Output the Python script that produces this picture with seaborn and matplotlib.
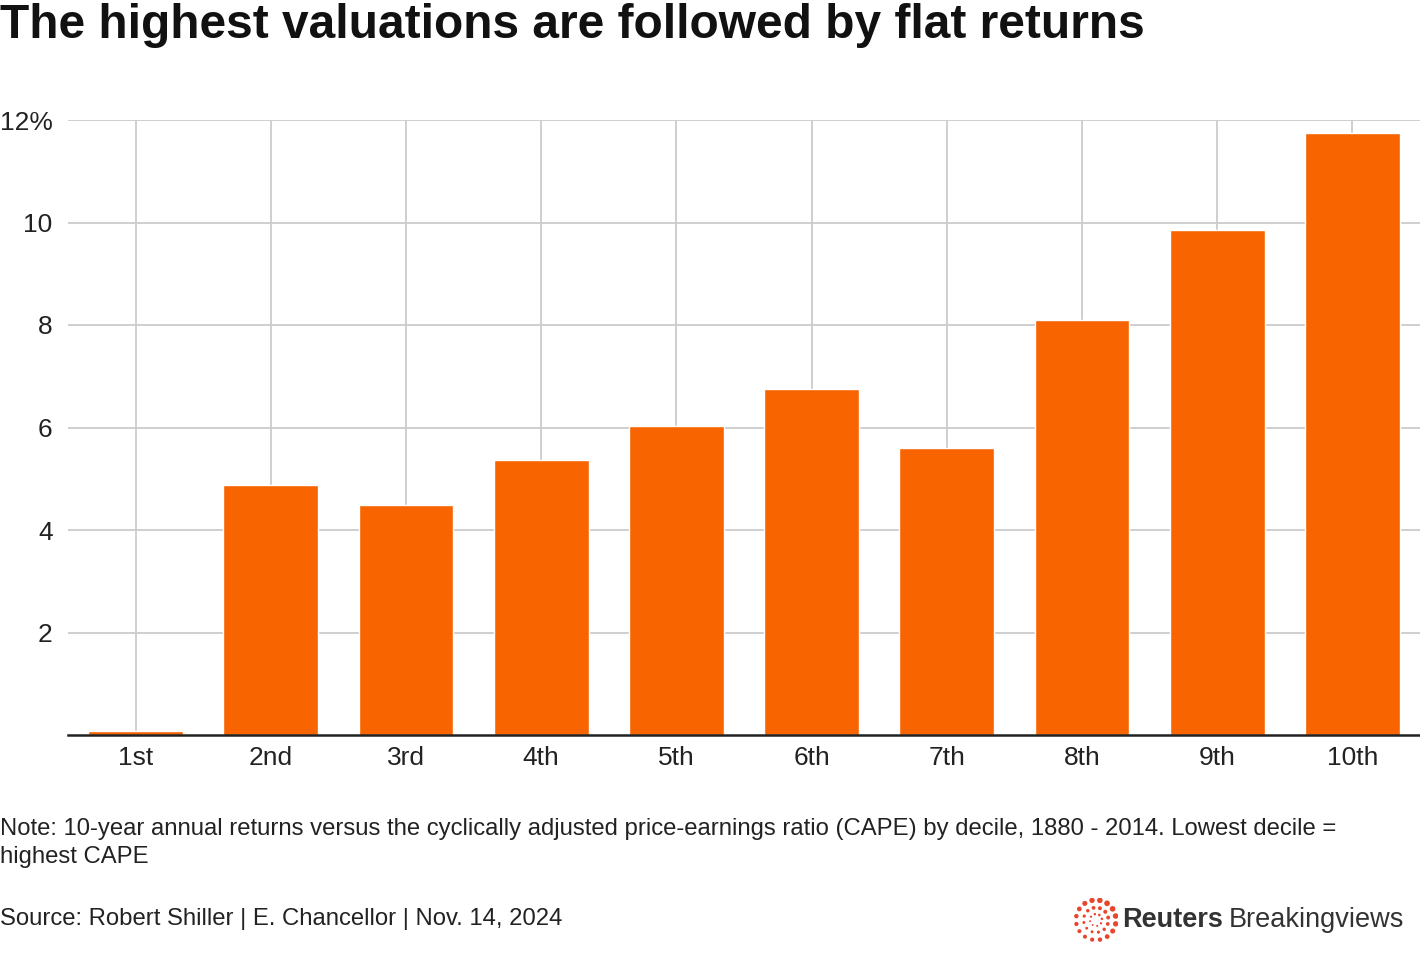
import matplotlib
matplotlib.use("Agg")
import matplotlib.pyplot as plt
import numpy as np
import pandas as pd
import seaborn as sns

deciles = ["1st", "2nd", "3rd", "4th", "5th", "6th", "7th", "8th", "9th", "10th"]
returns = [0.08, 4.87, 4.49, 5.37, 6.03, 6.75, 5.60, 8.10, 9.85, 11.75]
ytick_vals = [2, 4, 6, 8, 10, 12]
ytick_labels = ["2", "4", "6", "8", "10", "12%"]

BAR = "#F76400"
GRID = "#CCCCCC"

sns.set_style("white")
plt.rcParams["font.family"] = ["Liberation Sans", "DejaVu Sans"]

df = pd.DataFrame({"decile": deciles, "ret": returns})

fig = plt.figure(figsize=(14.2, 9.68), dpi=100)
ax = fig.add_axes([68 / 1420, 1 - 735 / 968, 1 - 68 / 1420, (735 - 120) / 968])

sns.barplot(data=df, x="decile", y="ret", color=BAR, saturation=1, width=0.7,
            ax=ax, zorder=3)

ax.set_xlim(-0.5, 9.5)
ax.set_ylim(0, 12)
ax.set_yticks(ytick_vals)
ax.set_yticklabels(ytick_labels)
ax.set_xlabel("")
ax.set_ylabel("")

ax.grid(True, axis="both", color=GRID, linewidth=1.3, zorder=0)
ax.set_axisbelow(True)
for s in ["top", "right", "left"]:
    ax.spines[s].set_visible(False)
ax.spines["bottom"].set_color("#222222")
ax.spines["bottom"].set_linewidth(1.8)
ax.spines["bottom"].set_zorder(5)

ax.tick_params(axis="y", length=0, pad=11, labelsize=19, labelcolor="#222222")
ax.tick_params(axis="x", length=0, pad=8, labelsize=19, labelcolor="#222222")

fig.text(0.0, 1 - 25 / 968, "The highest valuations are followed by flat returns",
         fontsize=34.5, fontweight="bold", ha="left", va="center", color="#111111")

fig.text(0.0, 1 - 843 / 968, "Note: 10-year annual returns versus the cyclically adjusted price-earnings ratio (CAPE) by decile, 1880 - 2014. Lowest decile =\nhighest CAPE",
         fontsize=17.2, ha="left", va="center", color="#222222", linespacing=1.4)
fig.text(0.0, 1 - 919 / 968, "Source: Robert Shiller | E. Chancellor | Nov. 14, 2024",
         fontsize=17.2, ha="left", va="center", color="#222222")

# logo
lax = fig.add_axes([1074 / 1420, 1 - 942 / 968, 44 / 1420, 44 / 968])
lax.set_xlim(-1.1, 1.1)
lax.set_ylim(-1.1, 1.1)
lax.axis("off")
for r, n, s in [(1.0, 16, 14), (0.62, 12, 7), (0.3, 8, 3)]:
    ang = np.linspace(0, 2 * np.pi, n, endpoint=False) + 0.2
    sizes = s * (0.6 + 0.6 * (np.cos(ang - 0.8) + 1) / 2)
    lax.scatter(r * np.cos(ang), r * np.sin(ang), s=sizes, color="#E8472E", lw=0)
fig.text(1122 / 1420, 1 - 920 / 968, "Reuters", fontsize=19.5, fontweight="bold",
         ha="left", va="center", color="#333333")
fig.text(1229 / 1420, 1 - 920 / 968, "Breakingviews", fontsize=19.5,
         ha="left", va="center", color="#333333")

fig.savefig("out.png", dpi=100)
